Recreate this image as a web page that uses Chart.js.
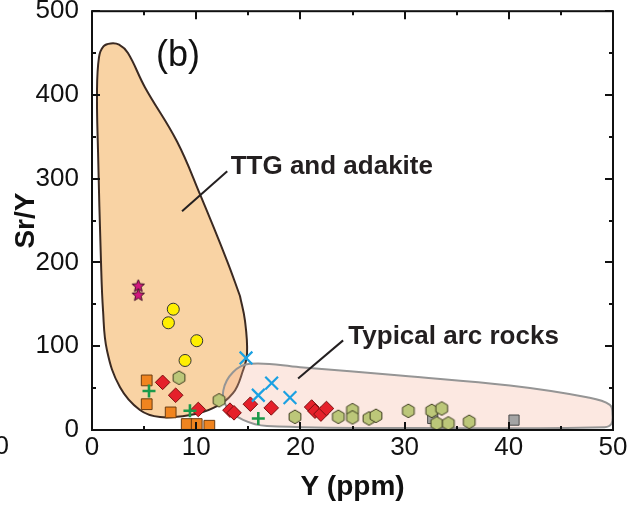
<!DOCTYPE html>
<html>
<head>
<meta charset="utf-8">
<script src="https://cdn.jsdelivr.net/npm/chart.js@4/dist/chart.umd.min.js"></script>
<style>
  html, body { margin: 0; padding: 0; background: #fff; }
  #wrap { width: 631px; height: 505px; position: relative; }
</style>
</head>
<body>
<div id="wrap"><canvas id="c" width="631" height="505"></canvas></div>
<script>
// ---- sample data: Y (ppm) vs Sr/Y ----
const starPts    = [[4.44, 171.8], [4.44, 161]];
const circlePts  = [[7.80, 144.2], [7.33, 128], [10.05, 106.6], [8.93, 83]];
const orangeSq   = [[5.25, 59.2], [5.25, 30.8], [7.55, 21], [9.09, 7.1], [10.05, 7.1], [11.26, 5.1]];
const redDiamond = [[6.78, 56.9], [8.03, 41.5], [10.2, 24.5], [13.24, 23.7], [13.63, 20.5],
                    [15.2, 30.8], [17.2, 26.4], [21.08, 27.4], [21.4, 22.5], [21.97, 19], [22.5, 25.7]];
const greenPlus  = [[5.47, 46.6], [9.4, 22.9], [15.96, 13.8]];
const blueX      = [[14.78, 86], [17.24, 56], [15.96, 41.5], [19.0, 38.7]];
const hexPts     = [[8.35, 62.4], [12.2, 35.5], [19.48, 15.8], [23.64, 15.8], [25.0, 23.7], [25.0, 15],
                    [26.58, 13.8], [27.25, 17], [30.36, 22.9], [32.6, 22.9], [33.56, 25.7],
                    [33.08, 7.9], [34.2, 7.9], [36.2, 9.8]];
const greySq     = [[32.7, 13.8], [40.5, 11.8]];

// field outlines (Y, Sr/Y), closed by repeating the first vertex
const ttgField = [[14.2, 160], [14.68, 130.6], [14.88, 91.4], [14.49, 71], [13.53, 43.9], [11.6, 26],
                  [9.4, 17.8], [6.53, 15.4], [4.6, 23.8], [2.69, 51], [1.44, 95], [1.06, 142.5],
                  [0.86, 202], [0.58, 332], [0.48, 404], [0.67, 445], [1.1, 458], [1.8, 461.5],
                  [2.6, 460], [3.45, 450], [5.09, 409], [8.16, 344.4], [10.36, 281.5], [12.96, 202],
                  [14.2, 160]];
const arcField = [[29.56, 65], [40.1, 53], [47.5, 39], [49.7, 30], [49.95, 18], [49.85, 7.5],
                  [49.2, 3.4], [31.5, 2.4], [16.8, 4.7], [14.5, 12], [12.96, 27], [12.6, 47],
                  [13.53, 69], [15.16, 79], [19.96, 75], [29.56, 65]];
const ttgLeader = [[12.98, 308.8], [8.64, 261.3]];
const arcLeader = [[24.1, 107], [19.78, 61.6]];

// axis ticks
const xTicks = [0, 10, 20, 30, 40, 50];
const yTicks = [0, 100, 200, 300, 400, 500];

const toXY = a => a.map(p => ({ x: p[0], y: p[1] }));
const FONT = '"Liberation Sans", Arial, Helvetica, sans-serif';

// filled star glyph
function starGlyph(r, fill, stroke) {
  const s = Math.ceil(2 * r + 4), c = document.createElement('canvas');
  c.width = s; c.height = s;
  const g = c.getContext('2d');
  g.beginPath();
  for (let i = 0; i < 10; i++) {
    const rr = i % 2 === 0 ? r : r * 0.45;
    const a = -Math.PI / 2 + i * Math.PI / 5;
    const px = s / 2 + rr * Math.cos(a), py = s / 2 + rr * Math.sin(a);
    i === 0 ? g.moveTo(px, py) : g.lineTo(px, py);
  }
  g.closePath();
  g.fillStyle = fill; g.fill();
  g.lineWidth = 1; g.strokeStyle = stroke; g.stroke();
  return c;
}
// pointy-top hexagon glyph
function hexGlyph(r, fill, stroke) {
  const s = Math.ceil(2 * r + 4), c = document.createElement('canvas');
  c.width = s; c.height = s;
  const g = c.getContext('2d');
  g.beginPath();
  for (let i = 0; i < 6; i++) {
    const a = -Math.PI / 2 + i * Math.PI / 3;
    const px = s / 2 + r * Math.cos(a), py = s / 2 + r * Math.sin(a);
    i === 0 ? g.moveTo(px, py) : g.lineTo(px, py);
  }
  g.closePath();
  g.fillStyle = fill; g.fill();
  g.lineWidth = 1; g.strokeStyle = stroke; g.stroke();
  return c;
}

const starImg = starGlyph(6.5, '#d3177f', '#3a0a22');
const hexImg = hexGlyph(6.8, '#bcc779', '#3c3c1e');

// frame, inward ticks, annotations
const decor = {
  id: 'decor',
  afterDatasetsDraw(chart) {
    const { ctx, chartArea: a, scales: { x, y } } = chart;
    ctx.save();
    ctx.strokeStyle = '#111';
    ctx.lineWidth = 2;
    ctx.strokeRect(a.left, a.top, a.right - a.left, a.bottom - a.top);
    ctx.beginPath();
    for (let v = 0; v <= 50; v += 5) {
      const px = Math.round(x.getPixelForValue(v));
      const len = v % 10 === 0 ? 8 : 4;
      ctx.moveTo(px, a.bottom); ctx.lineTo(px, a.bottom - len);
      ctx.moveTo(px, a.top); ctx.lineTo(px, a.top + len);
    }
    for (let v = 0; v <= 500; v += 50) {
      const py = Math.round(y.getPixelForValue(v));
      const len = v % 100 === 0 ? 8 : 4;
      ctx.moveTo(a.left, py); ctx.lineTo(a.left + len, py);
      ctx.moveTo(a.right, py); ctx.lineTo(a.right - len, py);
    }
    ctx.stroke();

    ctx.fillStyle = '#231f20';
    ctx.textBaseline = 'alphabetic';
    ctx.textAlign = 'left';
    ctx.font = 'bold 26px ' + FONT;
    ctx.fillText('TTG and adakite', x.getPixelForValue(13.31), y.getPixelForValue(306));
    ctx.fillText('Typical arc rocks', x.getPixelForValue(24.6), y.getPixelForValue(103));

    ctx.fillStyle = '#111';
    ctx.font = '36px ' + FONT;
    ctx.fillText('(b)', a.left + 64, a.top + 55);

    // edge of the neighbouring panel's tick label
    ctx.font = '26px ' + FONT;
    ctx.textAlign = 'right';
    ctx.textBaseline = 'middle';
    ctx.fillText('0', 9, 447);
    ctx.restore();
  }
};

const pointSet = (data, style, radius, fill, stroke, width, order) => ({
  type: 'scatter', data: toXY(data), pointStyle: style, pointRadius: radius,
  pointHoverRadius: radius, backgroundColor: fill, borderColor: stroke,
  borderWidth: width, order
});

new Chart(document.getElementById('c'), {
  type: 'scatter',
  data: {
    datasets: [
      pointSet(starPts, starImg, 6, '#d3177f', '#3a0a22', 1, 0),
      pointSet(circlePts, 'circle', 6, '#ffef00', '#333', 1, 1),
      pointSet(blueX, 'crossRot', 9, '#1ba1e2', '#1ba1e2', 2.2, 2),
      pointSet(greenPlus, 'cross', 6.5, '#1b9a4a', '#1b9a4a', 2.6, 3),
      pointSet(redDiamond, 'rectRot', 7.3, '#e5202a', '#7a1010', 1, 4),
      pointSet(orangeSq, 'rect', 7.6, '#f0841f', '#6a3c12', 1, 5),
      pointSet(hexPts, hexImg, 7, '#bcc779', '#3c3c1e', 1, 6),
      pointSet(greySq, 'rect', 7.2, '#a4a4a4', '#4a4a4a', 1, 7),
      { type: 'line', data: toXY(ttgLeader), borderColor: '#231f20', borderWidth: 2,
        pointRadius: 0, fill: false, tension: 0, order: 8 },
      { type: 'line', data: toXY(arcLeader), borderColor: '#231f20', borderWidth: 2,
        pointRadius: 0, fill: false, tension: 0, order: 8 },
      { type: 'line', data: toXY(arcField), borderColor: '#959595', borderWidth: 2,
        backgroundColor: 'rgba(245,178,155,0.3)', fill: 'shape', tension: 0.4,
        pointRadius: 0, order: 9 },
      { type: 'line', data: toXY(ttgField), borderColor: '#3b2a22', borderWidth: 2,
        backgroundColor: '#f9d3a4', fill: 'shape', tension: 0.4,
        pointRadius: 0, order: 10 }
    ]
  },
  options: {
    responsive: false,
    animation: false,
    devicePixelRatio: 1,
    layout: { padding: { top: 9, right: 18, bottom: 0, left: 0 } },
    plugins: { legend: { display: false }, tooltip: { enabled: false } },
    scales: {
      x: {
        type: 'linear', min: 0, max: 50,
        afterBuildTicks: s => { s.ticks = xTicks.map(v => ({ value: v })); },
        afterFit: s => { s.height = 75; s.paddingLeft = 0; s.paddingRight = 0; },
        grid: { display: false, drawTicks: false },
        border: { display: false },
        ticks: { color: '#111', padding: 2, font: { family: FONT, size: 26 } },
        title: { display: true, text: 'Y (ppm)', color: '#111',
                 font: { family: FONT, size: 28, weight: 'bold' }, padding: { top: 0, bottom: 1 } }
      },
      y: {
        type: 'linear', min: 0, max: 500,
        afterBuildTicks: s => { s.ticks = yTicks.map(v => ({ value: v })); },
        afterFit: s => { s.width = 92; s.paddingTop = 0; s.paddingBottom = 0; },
        grid: { display: false, drawTicks: false },
        border: { display: false },
        ticks: { color: '#111', padding: 13, font: { family: FONT, size: 26 } },
        title: { display: true, text: 'Sr/Y', color: '#111',
                 font: { family: FONT, size: 28, weight: 'bold' }, padding: { top: 9, bottom: 0 } }
      }
    }
  },
  plugins: [decor]
});
</script>
</body>
</html>
